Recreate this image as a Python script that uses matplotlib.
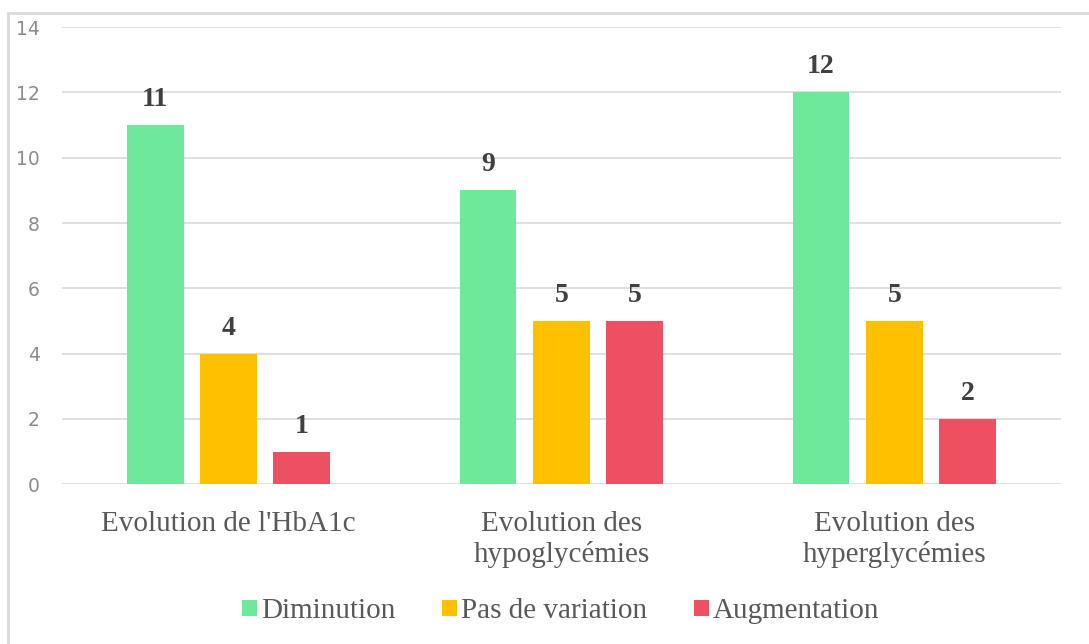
import matplotlib
matplotlib.use('Agg')
import matplotlib.pyplot as plt
import numpy as np
from matplotlib.patches import Rectangle

# Données
categories = ["Evolution de l'HbA1c", "Evolution des\nhypoglycémies", "Evolution des\nhyperglycémies"]
series_names = ["Diminution", "Pas de variation", "Augmentation"]
diminution = [11, 9, 12]
pas_de_variation = [4, 5, 5]
augmentation = [1, 5, 2]
colors = ["#6EE99C", "#FFC000", "#EB5160"]

fig = plt.figure(figsize=(10.89, 6.44), dpi=100)
ax = fig.add_axes([0.057, 0.248, 0.917, 0.71])

x = np.arange(len(categories))
width = 0.17
step = 0.22
for i, (vals, name, col) in enumerate(zip([diminution, pas_de_variation, augmentation], series_names, colors)):
    bars = ax.bar(x + (i - 1) * step, vals, width, color=col, label=name, zorder=3)
    for b, v in zip(bars, vals):
        ax.text(b.get_x() + b.get_width() / 2, v + 0.4, str(v), ha='center', va='bottom',
                fontsize=20, fontweight='bold', family='Liberation Serif', color='#404040')

ax.set_xlim(-0.5, 2.5)
ax.set_ylim(0, 14)
ax.set_yticks(range(0, 15, 2))
ax.yaxis.grid(True, color='#d9d9d9', linewidth=1.2, zorder=0)
for s in ax.spines.values():
    s.set_visible(False)
ax.tick_params(axis='both', length=0)
ax.tick_params(axis='y', pad=16, labelsize=13.5, labelcolor='#8c8c8c')
ax.tick_params(axis='x', pad=19, labelsize=21, labelcolor='#595959')
ax.set_xticks(x)
ax.set_xticklabels(categories, family='Liberation Serif', linespacing=1.2)

leg = fig.legend(loc='lower center', bbox_to_anchor=(0.515, -0.01), ncol=3, frameon=False,
                 prop={'family': 'Liberation Serif', 'size': 21}, handlelength=0.5,
                 handleheight=0.5, handletextpad=0.15, columnspacing=1.6)
for t in leg.get_texts():
    t.set_color('#595959')

# cadre du graphique
fig.patches.append(Rectangle((8 / 1089, -0.1), 1.2, (644 - 13) / 644 + 0.1, transform=fig.transFigure,
                             fill=False, edgecolor='#d9d9d9', linewidth=2))

fig.savefig('out.png', dpi=100)
